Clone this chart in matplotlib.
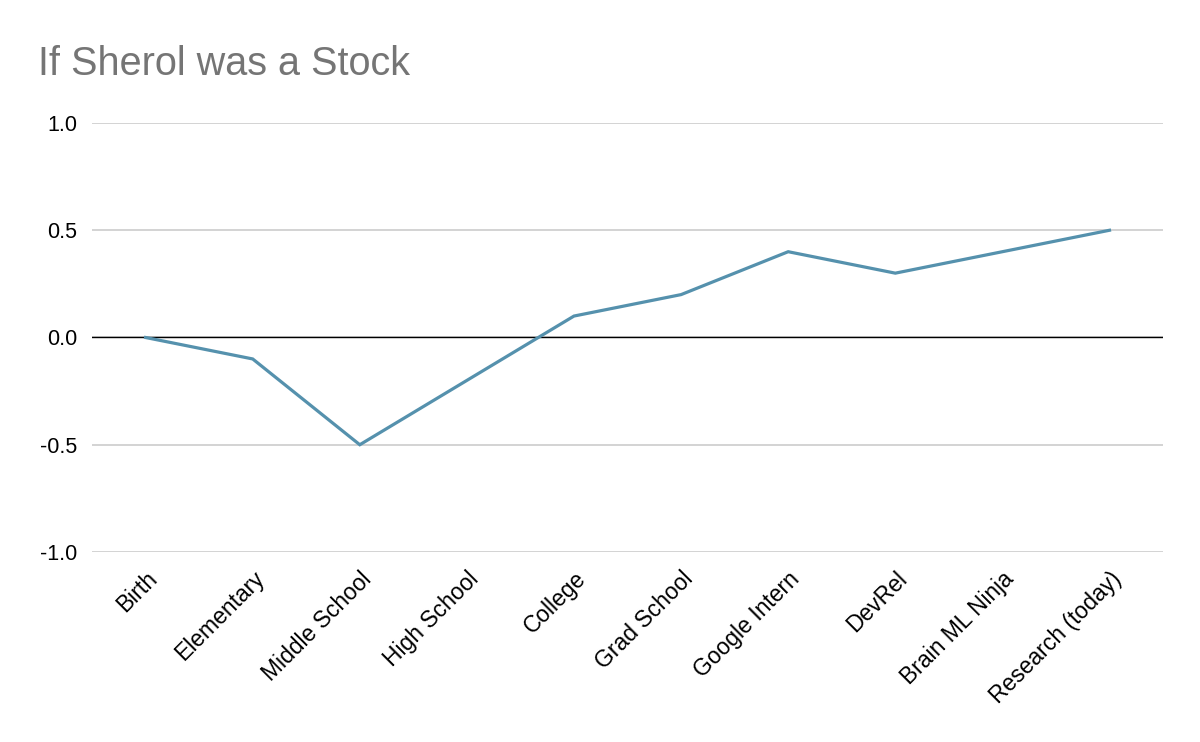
import numpy as np
import matplotlib.pyplot as plt

plt.rcParams['font.family'] = ['Liberation Sans', 'DejaVu Sans']

# data
stages = ['Birth', 'Elementary', 'Middle School', 'High School', 'College',
          'Grad School', 'Google Intern', 'DevRel', 'Brain ML Ninja', 'Research (today)']
value = [0.0, -0.1, -0.5, -0.2, 0.1, 0.2, 0.4, 0.3, 0.4, 0.5]
yticks = [-1.0, -0.5, 0.0, 0.5, 1.0]

fig = plt.figure(figsize=(12, 7.42), dpi=100)
ax = fig.add_axes([0.0767, 0.2561, 0.8925, 0.5781])

x = np.arange(len(stages))
ax.plot(x, value, color='#5591ad', lw=2.3, solid_joinstyle='miter', zorder=3)

ax.set_xlim(-0.5, len(stages) - 0.5)
ax.set_ylim(-1.0, 1.0)
ax.set_yticks(yticks)
ax.set_yticklabels(['%.1f' % v for v in yticks])
ax.yaxis.grid(True, color='#cccccc', lw=1.2)
ax.axhline(0, color='#000000', lw=1, zorder=2)
ax.set_axisbelow(True)

ax.set_xticks(x)
ax.set_xticklabels(stages, rotation=45, ha='right', rotation_mode='anchor')
ax.tick_params(axis='x', length=0, labelsize=16.5, pad=11)
ax.tick_params(axis='y', length=0, labelsize=15.5, pad=10.5)
for s in ax.spines.values():
    s.set_visible(False)

fig.text(0.032, 0.899, 'If Sherol was a Stock', fontsize=28.5, color='#757575',
         ha='left', va='baseline')

fig.savefig('out.png', dpi=100)
